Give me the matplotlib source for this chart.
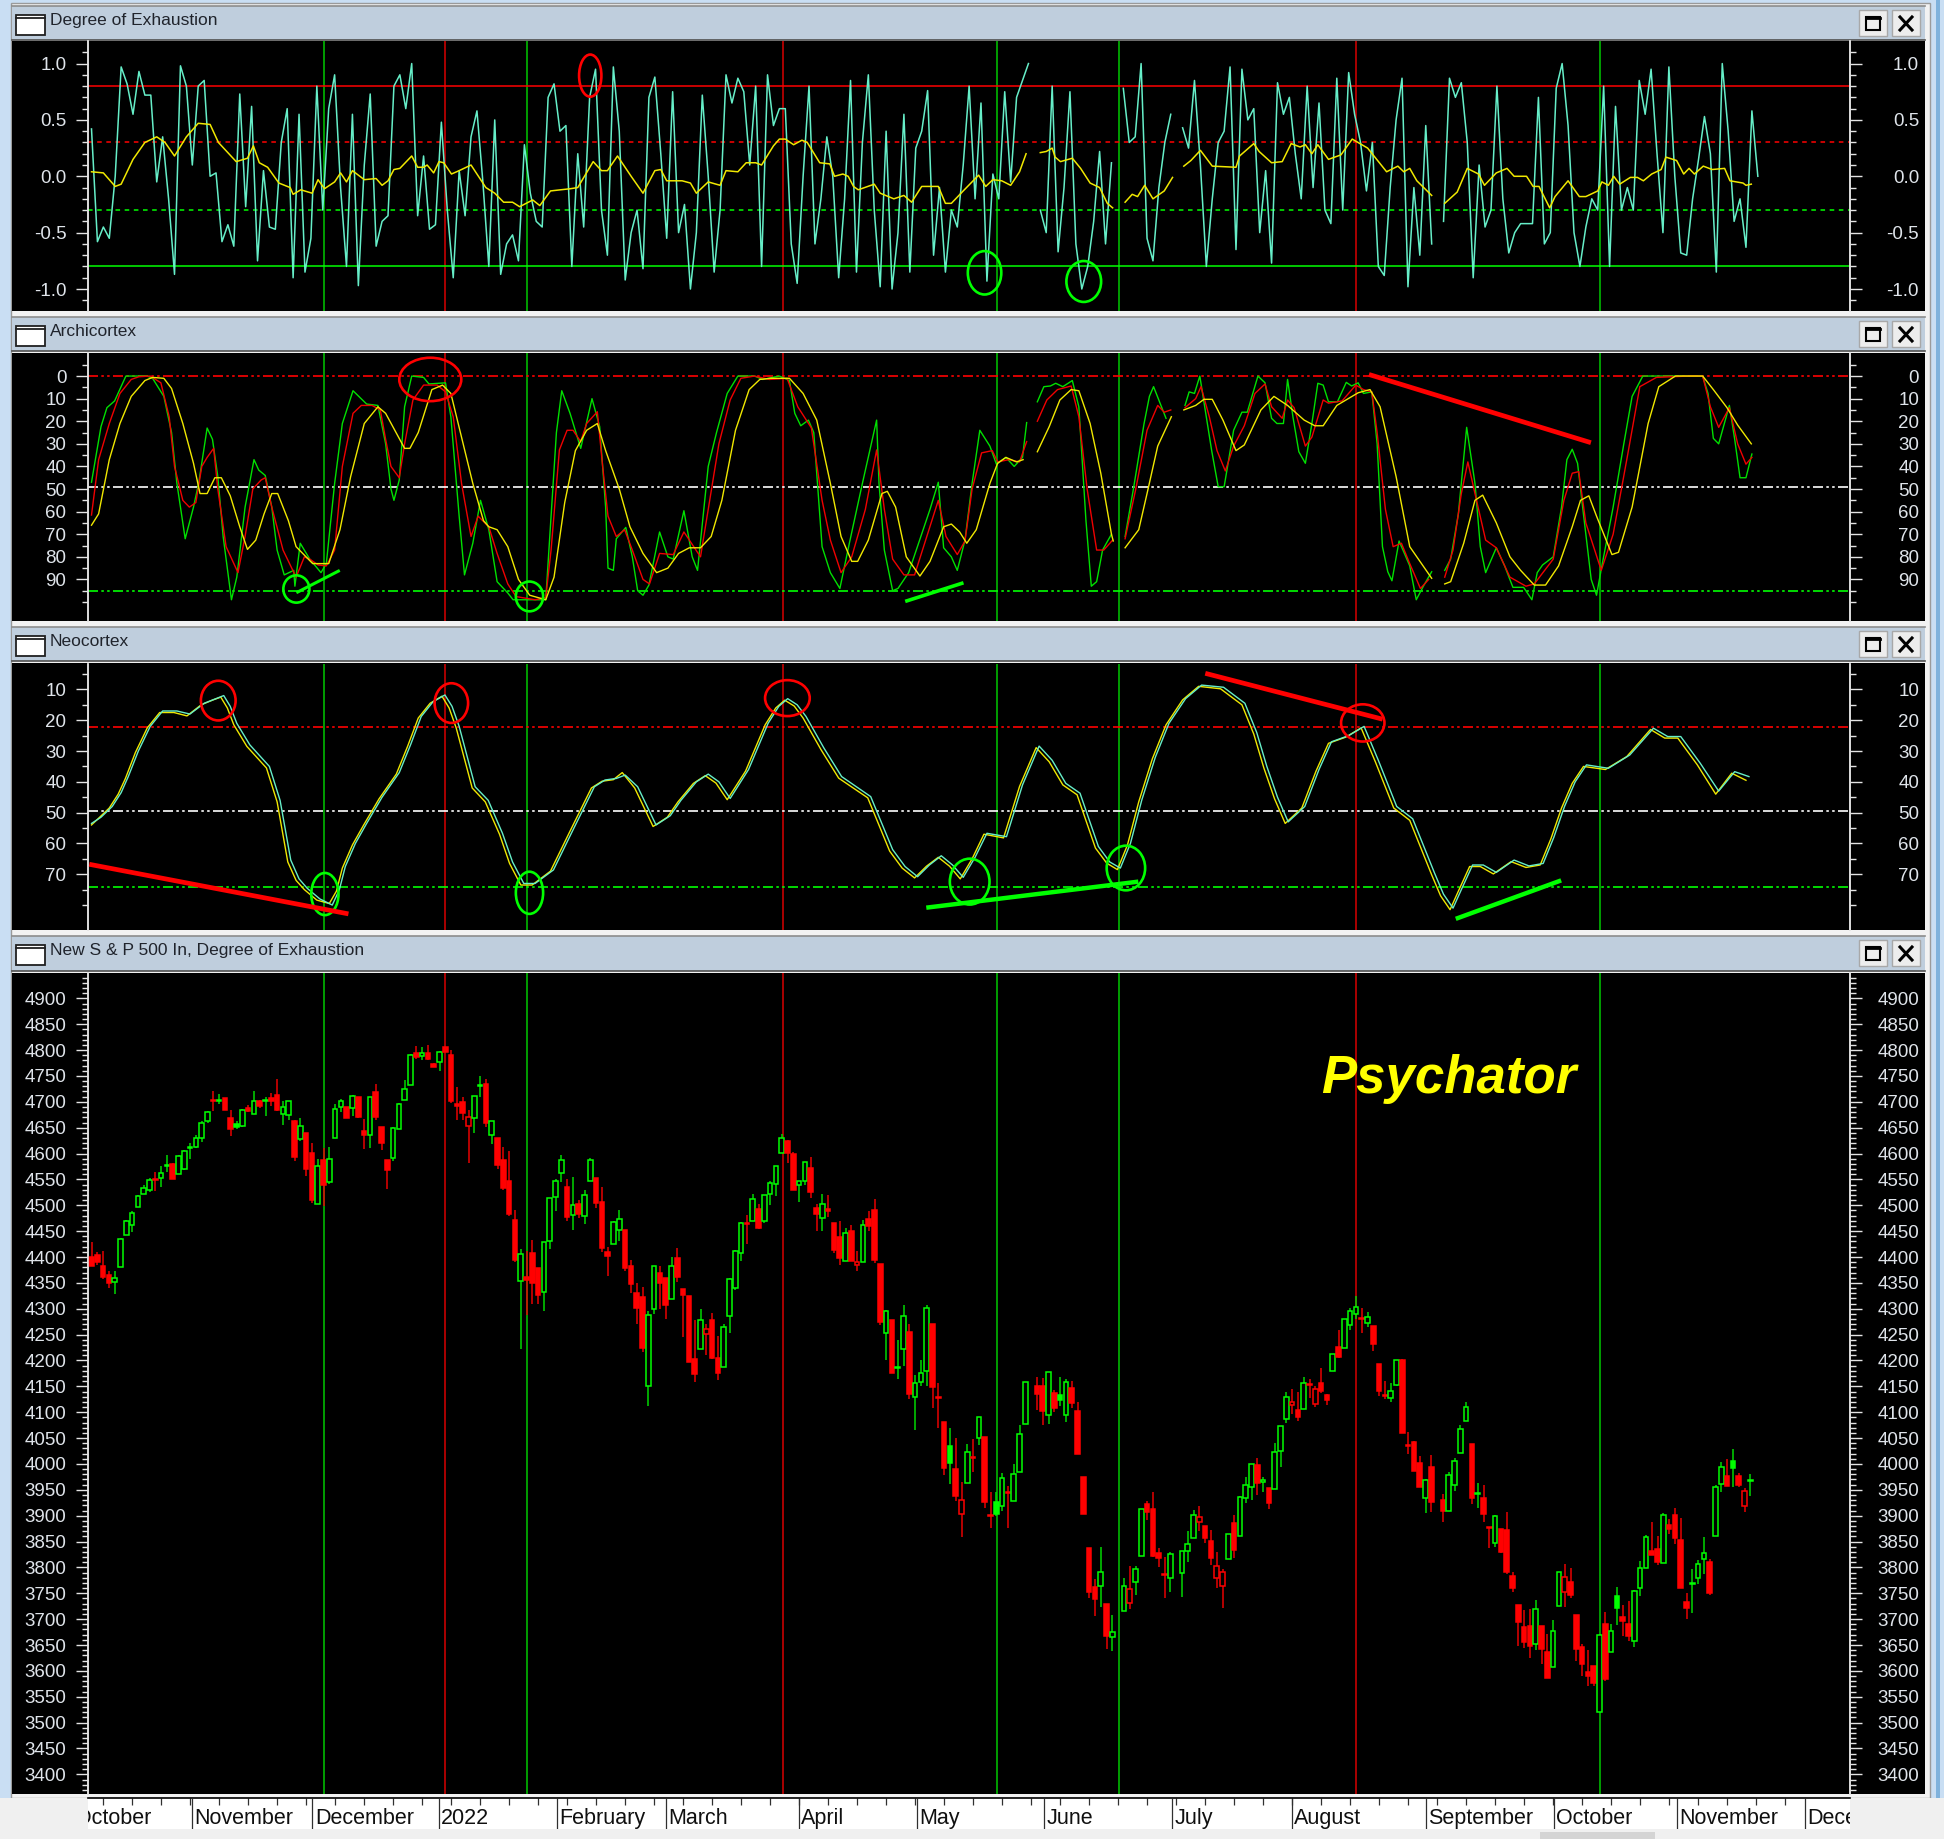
import numpy as np
import matplotlib
matplotlib.use("Agg")
import matplotlib.pyplot as plt
from matplotlib.patches import Ellipse, Rectangle
from matplotlib.ticker import FixedLocator, NullFormatter

nan = float("nan")
W, H = 1944, 1839
plt.rcParams["font.family"] = ["Liberation Sans", "DejaVu Sans"]

panel_titles = ["Degree of Exhaustion", "Archicortex", "Neocortex", "New S & P 500 In, Degree of Exhaustion"]
month_labels = ["October", "November", "December", "2022", "February", "March", "April", "May", "June",
                "July", "August", "September", "October", "November", "December"]
month_bars = [-3.2, 17.4, 38.1, 59.9, 80.2, 99.0, 121.9, 142.4, 164.3, 186.3, 207.0, 230.1, 252.1, 273.3, 295.5]

# bars carrying the vertical signal lines
green_events = [40, 75, 156.2, 177.2, 260]
red_events = [61, 119.2, 218]

# daily candles, nan on the empty holiday columns
opens = [4400, 4403, 4383, 4365, 4352, 4381, 4443, 4461, 4496, 4522, 4529, 4550, 4552, 4576, 4579, 4560, 4571, 4611, 4613, 4630,
         4662, 4701, 4702, 4707, 4669, 4657, 4653, 4688, 4677, 4701, 4701, 4707, 4714, 4677, 4674, 4662, 4628, 4640, 4601, 4502,
         4588, 4545, 4631, 4690, 4690, 4688, 4709, 4643, 4636, 4719, 4652, 4588, 4592, 4648, 4704, 4733, 4795, 4788, 4795, 4774,
         4777, 4806, 4790, 4696, 4699, 4654, 4669, 4730, 4734, 4636, 4631, 4587, 4547, 4471, 4354, 4362, 4407, 4378, 4333, 4430,
         4516, 4563, 4535, 4482, 4503, 4479, 4546, 4552, 4506, 4409, 4425, 4453, 4453, 4383, 4331, 4323, 4151, 4299, 4370, 4360,
         4318, 4398, 4339, 4325, 4203, 4223, 4252, 4279, 4204, 4188, 4286, 4341, 4408, 4464, 4469, 4493, 4469, 4522, 4541, 4602,
         4624, 4599, 4540, 4547, 4572, 4494, 4475, 4493, 4465, 4438, 4393, 4450, 4385, 4391, 4473, 4491, 4386, 4254, 4279, 4185,
         4223, 4256, 4130, 4159, 4179, 4270, 4128, 4081, 4035, 3991, 3904, 3964, 4012, 4051, 4052, 3900, 3927, 3918, 3945, 3929,
         3985, 4078, nan, 4151, 4151, 4095, 4137, 4134, 4095, 4147, 4102, 3974, 3838, 3763, 3764, 3729, 3666, nan, 3716, 3732,
         3772, 3822, 3922, 3913, 3827, 3788, 3779, nan, 3790, 3831, 3857, 3887, 3880, 3852, 3779, 3765, 3816, 3885, 3860, 3935,
         3956, 3997, 3966, 3954, 3951, 4025, 4086, 4113, 4104, 4107, 4154, 4115, 4157, 4134, 4179, 4227, 4225, 4269, 4289, 4282,
         4272, 4267, 4194, 4133, 4127, 4152, 4201, 4036, 4042, 4001, 3935, 3994, nan, 3931, 3909, 3959, 4022, 4083, 4038, 3942,
         3934, 3878, 3848, 3875, 3873, 3783, 3728, 3685, 3687, 3651, 3687, 3637, 3608, 3726, 3753, 3771, 3708, 3647, 3597, 3609,
         3521, 3690, 3637, 3745, 3705, 3690, 3657, 3761, 3799, 3832, 3835, 3808, 3882, 3901, 3853, 3734, 3768, 3779, 3817, 3811,
         3861, 3962, 3977, 4005, 3977, 3918, 3967]
closes = [4382, 4390, 4361, 4349, 4360, 4435, 4470, 4485, 4517, 4534, 4548, 4548, 4563, 4578, 4551, 4596, 4604, 4613, 4631, 4660,
          4680, 4701, 4704, 4685, 4648, 4651, 4685, 4683, 4701, 4691, 4703, 4701, 4685, 4690, 4701, 4594, 4654, 4570, 4511, 4575,
          4539, 4590, 4686, 4701, 4668, 4712, 4670, 4636, 4709, 4670, 4620, 4568, 4649, 4696, 4725, 4791, 4787, 4795, 4782, 4767,
          4797, 4796, 4701, 4692, 4679, 4670, 4712, 4732, 4659, 4662, 4578, 4534, 4484, 4394, 4405, 4355, 4349, 4326, 4429, 4514,
          4547, 4587, 4477, 4500, 4483, 4520, 4587, 4505, 4417, 4401, 4468, 4474, 4378, 4347, 4302, 4224, 4288, 4383, 4349, 4307,
          4383, 4362, 4326, 4198, 4174, 4278, 4260, 4204, 4176, 4264, 4357, 4412, 4465, 4463, 4512, 4457, 4520, 4543, 4575, 4631,
          4602, 4530, 4546, 4583, 4525, 4483, 4502, 4488, 4413, 4399, 4447, 4393, 4391, 4462, 4460, 4395, 4274, 4296, 4176, 4186,
          4286, 4135, 4157, 4176, 4302, 4149, 4127, 3993, 4001, 3938, 3930, 4023, 4011, 4090, 3927, 3899, 3904, 3973, 3943, 3980,
          4058, 4159, nan, 4135, 4103, 4177, 4109, 4123, 4159, 4117, 4019, 3903, 3753, 3738, 3792, 3668, 3676, nan, 3764, 3759,
          3797, 3912, 3908, 3822, 3819, 3786, 3826, nan, 3831, 3846, 3901, 3898, 3857, 3819, 3803, 3792, 3864, 3833, 3936, 3959,
          4000, 3964, 3967, 3924, 4023, 4073, 4130, 4119, 4091, 4157, 4153, 4145, 4141, 4123, 4212, 4207, 4281, 4295, 4304, 4280,
          4285, 4232, 4141, 4131, 4141, 4200, 4060, 4034, 3987, 3955, 3968, 3927, nan, 3909, 3979, 4005, 4067, 4110, 3935, 3943,
          3903, 3876, 3899, 3830, 3792, 3761, 3695, 3656, 3648, 3719, 3642, 3587, 3678, 3791, 3782, 3746, 3642, 3613, 3590, 3577,
          3669, 3584, 3677, 3721, 3697, 3668, 3754, 3798, 3858, 3824, 3810, 3901, 3874, 3857, 3761, 3721, 3770, 3806, 3828, 3750,
          3956, 3994, 3958, 3992, 3960, 3948, 3968]
highs = [4429, 4409, 4412, 4372, 4372, 4437, 4472, 4488, 4519, 4540, 4552, 4565, 4575, 4597, 4581, 4598, 4607, 4620, 4635, 4662,
         4683, 4720, 4715, 4708, 4684, 4662, 4686, 4693, 4720, 4703, 4710, 4718, 4744, 4702, 4702, 4664, 4668, 4640, 4620, 4590,
         4610, 4613, 4695, 4705, 4690, 4714, 4709, 4667, 4710, 4735, 4652, 4588, 4652, 4698, 4742, 4792, 4808, 4805, 4810, 4775,
         4799, 4806, 4800, 4728, 4710, 4684, 4712, 4750, 4745, 4662, 4631, 4612, 4604, 4490, 4415, 4412, 4433, 4378, 4429, 4515,
         4550, 4597, 4550, 4555, 4510, 4530, 4592, 4552, 4535, 4420, 4470, 4490, 4453, 4395, 4350, 4342, 4295, 4383, 4382, 4360,
         4400, 4418, 4339, 4325, 4278, 4299, 4270, 4291, 4247, 4270, 4360, 4414, 4467, 4482, 4522, 4502, 4520, 4546, 4575, 4637,
         4627, 4603, 4547, 4583, 4593, 4503, 4521, 4520, 4465, 4470, 4456, 4462, 4412, 4471, 4488, 4512, 4386, 4298, 4279, 4240,
         4308, 4270, 4171, 4200, 4308, 4270, 4157, 4081, 4070, 4050, 3965, 4039, 4048, 4090, 4052, 3945, 3945, 3983, 3957, 4000,
         4076, 4159, nan, 4169, 4166, 4177, 4143, 4169, 4165, 4160, 4119, 3974, 3838, 3777, 3839, 3729, 3708, nan, 3780, 3803,
         3802, 3912, 3928, 3945, 3838, 3820, 3830, nan, 3831, 3870, 3911, 3918, 3880, 3872, 3829, 3797, 3864, 3902, 3938, 3974,
         4000, 4012, 3975, 3954, 4041, 4073, 4140, 4145, 4139, 4168, 4165, 4151, 4186, 4136, 4212, 4259, 4281, 4302, 4325, 4302,
         4293, 4267, 4194, 4160, 4157, 4200, 4203, 4062, 4044, 4015, 3970, 4018, nan, 3942, 3985, 4012, 4076, 4119, 4038, 3963,
         3960, 3878, 3901, 3875, 3908, 3791, 3728, 3717, 3719, 3737, 3687, 3672, 3698, 3791, 3806, 3798, 3708, 3652, 3641, 3609,
         3672, 3713, 3690, 3763, 3728, 3736, 3757, 3812, 3863, 3888, 3861, 3905, 3893, 3914, 3896, 3751, 3797, 3815, 3858, 3817,
         3959, 4003, 4009, 4029, 3983, 3954, 3980]
lows = [4382, 4385, 4358, 4340, 4329, 4381, 4442, 4448, 4496, 4522, 4525, 4527, 4535, 4565, 4551, 4560, 4568, 4590, 4611, 4623,
        4660, 4682, 4695, 4684, 4633, 4648, 4652, 4680, 4677, 4688, 4673, 4692, 4683, 4655, 4665, 4585, 4625, 4557, 4505, 4502,
        4498, 4541, 4631, 4680, 4668, 4672, 4668, 4608, 4610, 4665, 4606, 4532, 4585, 4648, 4704, 4733, 4782, 4780, 4780, 4767,
        4760, 4796, 4698, 4665, 4665, 4582, 4640, 4710, 4652, 4618, 4570, 4530, 4480, 4390, 4222, 4288, 4310, 4310, 4295, 4415,
        4488, 4545, 4470, 4452, 4475, 4464, 4546, 4495, 4410, 4363, 4425, 4430, 4372, 4330, 4270, 4217, 4112, 4290, 4300, 4280,
        4318, 4352, 4245, 4198, 4159, 4223, 4210, 4202, 4163, 4188, 4254, 4336, 4393, 4425, 4469, 4455, 4465, 4501, 4517, 4602,
        4581, 4530, 4507, 4539, 4514, 4450, 4451, 4477, 4408, 4384, 4393, 4393, 4372, 4390, 4451, 4388, 4268, 4200, 4176, 4164,
        4190, 4125, 4065, 4150, 4150, 4108, 4069, 3978, 3961, 3929, 3859, 3964, 3984, 4036, 3914, 3877, 3900, 3910, 3877, 3928,
        3985, 4078, nan, 4105, 4075, 4077, 4100, 4112, 4082, 4109, 4019, 3903, 3740, 3706, 3724, 3642, 3639, nan, 3716, 3719,
        3746, 3822, 3891, 3820, 3801, 3741, 3752, nan, 3743, 3810, 3857, 3870, 3847, 3804, 3760, 3722, 3816, 3819, 3860, 3925,
        3930, 3940, 3945, 3912, 3951, 3995, 4080, 4097, 4083, 4107, 4127, 4110, 4138, 4114, 4179, 4204, 4225, 4259, 4280, 4253,
        4265, 4219, 4132, 4125, 4120, 4150, 4060, 4019, 3986, 3955, 3905, 3907, nan, 3888, 3909, 3948, 4022, 4083, 3923, 3915,
        3888, 3838, 3839, 3828, 3788, 3752, 3648, 3645, 3624, 3641, 3613, 3587, 3608, 3726, 3723, 3740, 3620, 3590, 3570, 3570,
        3521, 3580, 3637, 3688, 3668, 3657, 3647, 3744, 3799, 3824, 3805, 3808, 3865, 3845, 3761, 3700, 3712, 3767, 3788, 3747,
        3861, 3946, 3958, 3955, 3955, 3908, 3938]
filled_green = [25, 148, 156, 167, 263, 283]
hollow_red = [65, 106, 132, 150, 179, 191, 194, 195, 207, 211, 254, 285]

# Degree of Exhaustion, one reading per indicator bar
exh_line = [.42, -.58, -.45, -.55, 0, .97, .82, .55, .93, .72,
            .72, -.05, .35, -.2, -.87, .98, .8, .1, .8, .85,
            0, .03, -.58, -.43, -.62, .73, -.27, .62, -.75, .05,
            -.45, -.47, .3, .6, -.9, .55, -.85, -.55, .8, -.3,
            .6, .9, -.1, -.8, .55, -.97, .1, .73, -.62, -.4,
            -.35, .8, .9, .6, 1.0, -.35, .18, -.47, -.43, .48,
            -.3, -.9, .05, -.35, .35, .58, -.05, -.8, .5, -.87,
            -.6, -.52, -.75, .28, -.15, -.4, -.45, .7, .82, .4,
            .45, -.8, .2, -.45, .7, .95, -.3, -.7, .97, .4,
            -.92, -.5, -.3, -.82, .7, .88, .2, -.55, .75, -.5,
            -.25, -1.0, -.5, .72, 0, -.85, -.3, .9, .65, .87,
            .75, .1, .8, -.8, .9, .45, .6, .6, -.6, -.95,
            0, .8, -.6, -.2, .35, 0, -.9, -.2, .85, -.85,
            .3, .9, -.3, -.98, .4, -1.0, -.5, .55, -.85, .25,
            .4, .76, -.7, -.1, -.85, -.3, -.45, .1, .8, -.2,
            .65, -.93, .02, -.2, .75, -.05, .7, .85, 1.0, nan,
            -.3, -.5, .8, -.67, -.1, .75, -.6, -1.0, -.8, -.4,
            .22, -.6, .12, nan, .78, .3, .35, 1.0, -.55, -.75,
            -.1, .3, .55, nan, .43, .25, .85, .1, -.8, -.2,
            .3, .4, .97, -.65, .95, .5, .6, -.5, .05, -.77,
            .83, .55, .7, .2, -.2, .8, -.1, .65, -.3, -.42,
            .87, -.3, .92, .55, .3, -.13, .3, -.8, -.88, -.1,
            .5, .87, -.98, -.1, -.7, .45, -.6, nan, -.4, .87,
            .7, .83, .3, -.9, .1, -.45, -.3, .8, -.2, -.68,
            -.5, -.42, -.42, -.42, .7, -.6, -.5, .78, 1.0, .45,
            -.5, -.8, -.45, -.2, -.3, .8, -.8, .62, -.3, -.1,
            -.3, .85, .55, .95, .2, -.5, .97, 0, -.68, -.7,
            -.2, .15, .53, .2, -.85, 1.0, .4, -.4, -.2, -.63,
            .58, 0]
exh_signal = [(0, .04), (2, .03), (4, -.09), (5, -.07), (7, .15), (9, .3), (11, .35), (12.4, .3), (14, .18), (16, .35),
              (18, .47), (20, .46), (21.4, .3), (24.4, .13), (26.3, .16), (27.3, .27), (28.3, .12), (29.7, .08), (31.6, -.06),
              (33.5, -.1), (34, -.16), (35.3, -.12), (37.2, -.15), (38.2, -.03), (39.3, -.11), (41, -.05), (42, .03), (43, -.05),
              (44, .05), (46, -.03), (48, -.02), (49, -.08), (50, -.04), (51, .06), (52, .07), (54, .18), (55, .08), (56, .08),
              (56.6, .1), (57.7, .03), (58.6, .13), (59.4, .12), (60.7, .02), (62, .05), (64, .1), (66.5, -.1), (68, -.15),
              (69.5, -.23), (71, -.23), (72.2, -.27), (74.4, -.21), (75.6, -.26), (77.4, -.13), (80.8, -.11), (82, -.1),
              (84.6, .13), (86, .05), (87, .05), (88.7, .18), (91, 0), (93, -.15), (95, .05), (96, .06), (97, -.04), (99.6, -.04),
              (101, -.06), (102, -.15), (104, -.05), (106, -.08), (107, .05), (109, .04), (110.4, .12), (112, .12), (113, .1),
              (115, .27), (116, .33), (117, .33), (118.4, .28), (119.8, .32), (120.7, .3), (122.8, .12), (124.5, .11), (125.3, 0),
              (126.7, .02), (127.6, 0), (128.5, -.09), (129.3, -.12), (132, -.07), (133, -.15), (135.3, -.2), (137, -.17),
              (138.3, -.23), (140, -.09), (142.8, -.09), (144, -.24), (145, -.24), (147, -.13), (149.6, .01), (150.8, -.09),
              (152, -.03), (153.5, -.04), (155, -.08), (156.5, .04), (157.6, .2), (159, nan),
              (160, .21), (161, .22), (162, .25), (162.5, .17), (163.4, .13), (165.4, .16), (166.8, .07), (168.4, -.06), (170, -.1),
              (171.3, -.24), (172.2, -.28), (173, nan), (174.3, -.23), (175.5, -.16), (176.4, -.18), (177.6, -.08), (179, -.2),
              (180.9, -.13), (182.3, -.01), (183, nan), (184.2, .09), (185.4, .14), (187, .23), (189, .09), (193, .08), (193.6, .18),
              (196, .29), (196.9, .22), (199, .12), (200.8, .13), (202.3, .29), (203.8, .26), (204.7, .28), (205.8, .2), (206.8, .28),
              (208.6, .15), (210.7, .19), (212.6, .33), (215.2, .25), (218.4, .04), (220.3, .09), (221.3, .04), (222.3, .07),
              (223.5, -.04), (226, -.17), (227, nan), (228.2, -.24), (230.3, -.14), (232, .07), (233.9, .02), (234.9, -.08),
              (236.9, .03), (238.7, .07), (239.9, 0), (242, 0), (243.1, -.09), (244.1, -.09), (245.9, -.28), (246.8, -.18), (249, -.04),
              (250.9, -.18), (252, -.18), (254, -.13), (254.7, -.05), (255.8, -.08), (256.7, 0), (257.7, -.07), (259.5, -.01),
              (260.7, -.01), (261.7, -.04), (263.1, .02), (264.7, .06), (265.5, .17), (267.3, .14), (268.5, .02), (269.4, .07),
              (270.3, .02), (271.8, .09), (273.3, .06), (275.4, .07), (276.3, -.04), (278.5, -.06), (279, -.08), (279.9, -.07)]

# Archicortex turning points
arch_green = [(0, 47), (1.6, 22.4), (2.6, 14), (3.9, 11), (5.8, 0), (9.4, 0), (10.3, 1), (12.2, 9), (13.5, 25), (14.4, 47.5),
              (15.8, 72), (17.2, 58), (18.1, 47), (19.5, 23), (20.4, 28), (21.3, 44.5), (22.2, 71), (23.6, 99), (24.5, 89), (25.9, 58),
              (27.4, 37), (28.2, 41.6), (29.3, 44), (30.4, 58), (31.3, 77), (32.5, 88), (34.1, 86), (34.3, 93), (35.2, 74), (36.8, 81),
              (38.7, 87), (39.6, 83), (41, 47.5), (42.3, 21), (44.1, 6.5), (46, 11.4), (46.4, 12.4), (48.3, 13), (49.6, 30), (50.5, 50),
              (51, 55), (51.9, 46), (52.8, 13.6), (54, 0), (56, .6), (56.9, 3.5), (59.7, 3), (60.6, 18), (62, 62), (62.9, 88),
              (64.3, 74), (65.6, 55), (67, 68), (68.4, 91), (70.2, 96), (71.1, 99), (76.6, 99), (77.5, 62), (78.4, 25), (79.3, 6.5),
              (80.7, 16.5), (82.5, 32), (84.4, 10), (85.7, 22.4), (86.7, 58), (87.1, 85), (88, 86), (88.5, 72), (90.1, 67), (91.2, 80),
              (92.1, 95), (93, 97), (94, 92.5), (95.8, 69), (97.2, 80), (98.1, 81), (99.9, 59.6), (101.3, 80), (102.2, 86), (104, 40),
              (105.4, 25), (107.2, 7.7), (109, 0), (111.8, 0), (113.2, 1.5), (116, 0), (117.7, 2), (118.6, 16.5), (119.6, 22), (120.9, 19.5),
              (121.8, 25), (123.2, 75.5), (124.6, 87), (126.2, 94), (127.8, 74), (130, 47.5), (132.4, 19.5), (132.8, 47.5), (133.7, 77),
              (135.1, 95), (136, 94), (137.8, 87), (141.4, 59), (142.8, 47), (143.7, 76), (145, 80), (146, 86), (147.3, 72.6), (148.5, 47.5),
              (149.8, 24), (151.5, 31), (152.6, 39), (154.2, 36), (155.6, 40), (157, 36), (157.7, 20.6), (158.6, nan),
              (159.5, 11.4), (160.6, 4.7), (161.7, 4.4), (162.6, 3.2), (163.8, 4.7), (165.4, 2), (166.5, 13.6), (167.7, 64), (168.6, 93),
              (169.5, 91), (170.5, 77), (172, 70), (173, nan), (174.3, 71), (175.7, 50), (177.5, 21), (178.4, 9), (179.1, 4.7), (181.2, 18.7),
              (183, nan), (184.4, 13), (185.1, 7), (186, 7.7), (186.9, 0), (188, 18), (188.9, 33), (190, 49), (191, 49), (192.6, 24), (194, 16),
              (194.9, 16), (196.7, 0), (197.9, 3), (199, 18.7), (199.9, 21), (201, 21), (201.7, 1.5), (202.6, 18), (203.6, 33.5), (204.7, 38.6),
              (205.8, 21), (206.8, 3.2), (207.7, 4), (208.6, 11.4), (210.1, 11.4), (211.6, 2.8), (212.5, 4.4), (213.6, 3), (214.5, 7.7), (215.9, 7),
              (216.8, 30), (217.7, 75.5), (218.6, 86.6), (219.3, 90.6), (220.5, 73), (222.3, 84), (223.4, 99), (224.6, 93), (226, 86.6), (227, nan),
              (228.2, 86), (229.2, 81), (230.5, 61), (231.9, 22.7), (233.3, 47.5), (234.2, 75.5), (235.1, 87), (236.9, 76), (238.3, 84), (239.7, 93.5),
              (241.5, 93.5), (242.9, 99), (243.8, 87), (244.7, 83.6), (246.5, 80), (247.9, 58), (248.8, 37), (249.7, 32.4), (250.6, 38.6), (251.5, 59),
              (252.9, 90), (253.8, 97), (254.7, 84), (256.6, 58), (258.4, 30), (259.8, 9), (261.6, 0), (271.7, 0), (272.6, 7.7), (273.5, 27.6),
              (274.4, 30), (276.2, 13), (277.1, 28), (278, 45), (279, 45), (280, 34.5)]
arch_red = [(0, 61.5), (1.2, 37), (3, 21), (4.8, 7.7), (6.7, 1.5), (8, .3), (9.9, 0), (11.7, 3), (13.1, 18), (14, 40), (15.4, 55), (16.5, 58),
            (17.6, 56), (18.6, 40), (19.5, 36), (20.6, 32), (21.3, 50), (22.7, 75.5), (24.7, 87), (25.9, 71), (27.2, 50), (28.6, 46), (29.3, 45),
            (30.4, 58), (32.3, 77), (34.5, 89), (35.9, 80), (36.8, 81), (38.2, 83.6), (39.6, 84), (41, 77), (42.3, 40), (44.1, 16.5), (45.5, 13),
            (47.3, 13), (48.7, 15), (49.6, 28), (50.5, 40), (51.9, 45), (52.8, 30), (54.2, 10.6), (56, 4), (58.3, 4), (59.7, 7), (61, 18), (62.4, 47.5),
            (64, 71), (65.2, 62), (67, 66.7), (68.4, 78.5), (70.2, 92), (71.6, 97.6), (74.8, 99), (76.6, 98), (77.5, 77), (78.9, 32.7), (80.2, 24),
            (81.2, 24), (82.5, 29), (83.5, 21), (85.3, 15.8), (86.2, 40), (87.1, 62), (88.5, 71), (89.9, 68), (91.2, 77), (93, 90), (94.1, 92), (95.8, 78.5),
            (98.1, 79), (99.9, 69), (102.7, 80), (104, 59), (105.8, 30), (107.7, 10.6), (109.5, 1), (111.8, 0), (114.3, 1.5), (117.3, 1), (119.1, 13.6),
            (121.4, 23), (123.2, 55), (124.6, 72.6), (126.4, 87), (128.2, 80), (130.5, 59), (132.4, 32.7), (133.7, 59), (135.1, 81), (137, 88), (138.8, 88),
            (142.2, 60), (142.8, 55), (144.1, 71), (146, 79), (147.3, 73), (148.5, 50), (150.1, 34), (151.9, 33), (152.8, 38), (154.7, 37), (156.5, 38),
            (157.7, 29), (158.6, nan), (159.5, 20), (161.1, 10.6), (162.9, 6), (165.2, 4.4), (166.5, 18), (167.9, 50), (169.5, 77), (170.7, 77), (172.2, 72.6),
            (173, nan), (174.3, 72), (176.1, 50), (178, 24), (179.8, 13), (180.9, 16), (182, 15), (183, nan), (184.4, 14), (186.2, 10), (187.1, 4.7), (188.5, 18),
            (189.8, 33), (191.2, 42), (192.6, 31), (194.4, 22), (196.2, 7.7), (197.9, 3.5), (199, 13.6), (200.8, 18.7), (201.7, 10.6), (202.8, 14), (204.7, 31),
            (205.8, 27), (207.7, 10.6), (208.6, 12), (210.9, 11), (213.2, 4), (214.5, 6), (215.9, 7), (216.8, 25), (218.2, 59), (219.5, 75.5), (220.9, 74),
            (222.3, 83), (224.1, 94), (225.5, 90), (227, nan), (228.2, 89), (229.6, 77), (231, 52), (232.1, 38), (233.3, 52), (235.1, 72.6), (236.9, 76), (239.2, 89),
            (241.9, 93), (243.3, 92), (246.5, 81), (248.3, 55), (249.7, 43), (250.8, 42.3), (252, 65), (254.6, 86), (256.6, 70), (258.9, 37), (261.1, 4.7), (263.9, .6),
            (269.4, 0), (271.7, 0), (273, 13.6), (274.4, 22.7), (276.2, 14), (277.6, 30), (279, 39), (280, 36)]
arch_yellow = [(0, 66), (1.2, 61), (3, 37), (4.8, 21), (6.7, 9), (9, 2), (10.3, .6), (12.2, 1), (13.5, 5.5), (15.4, 21), (17.2, 38.6), (18.3, 52), (19.5, 52),
               (20.8, 45), (21.9, 45), (23.4, 53), (25, 66.7), (26.3, 76.7), (27.7, 72.6), (29.1, 61), (30.4, 52), (31.4, 52), (33.2, 64), (34.5, 75.5), (37.3, 83),
               (40, 83), (41.9, 68), (43.7, 44.5), (46, 21), (48.3, 13.6), (49.6, 16.5), (52.8, 32), (53.7, 32), (55.1, 25), (57.4, 6), (59.2, 4), (60.6, 7.7), (62.4, 27),
               (64.3, 47.5), (66.1, 64), (67, 66.7), (68.4, 68), (70.2, 75.5), (72, 90), (73.9, 97), (76.6, 99), (78, 89), (79.8, 56), (81.6, 33), (83.5, 24), (85.3, 21),
               (86.7, 33), (89, 50), (90.8, 66.7), (93, 78.5), (95.3, 87), (97.2, 85), (99, 78.5), (100.8, 76), (102.7, 76), (104.5, 71), (106.3, 55), (108.6, 24), (110.9, 6),
               (112.7, 1.5), (114.5, 1), (117.7, 1), (120, 7.7), (122.3, 19.5), (124.6, 47.5), (126.4, 71), (128.2, 82), (129.2, 82), (131, 72.6), (133.3, 52), (134.2, 51),
               (135.6, 58), (137.4, 80), (139.7, 88.5), (141.4, 82), (143.7, 66.7), (145, 65.5), (146.4, 69), (147.6, 74), (149.2, 68), (151.5, 47.5), (152.8, 38.6), (154.2, 36),
               (156, 38), (157.1, 37), (158.6, nan), (159.5, 33.5), (161.5, 22.4), (163.3, 10.6), (165.2, 6), (166.5, 6.5), (168.4, 21), (170.2, 43), (172, 70), (172.3, 73), (173, nan),
               (174.3, 76), (176.6, 68), (178, 52), (179.8, 31), (182.1, 18), (183, nan), (184.2, 15), (186.2, 13), (187.6, 10.3), (189, 10.3), (190.8, 19.5), (193, 33), (194.4, 30.5),
               (197.2, 15), (199.4, 9), (201.7, 13), (204.5, 19.5), (206.3, 22), (207.7, 22), (210, 13), (213.6, 7.4), (215.6, 6), (217.3, 13.6), (220, 44.5), (222.3, 75.5), (226, 89.5),
               (227, nan), (228.2, 92), (229.2, 91), (231.4, 74), (233.3, 55), (234.6, 52.7), (236.9, 65), (239.2, 80), (241, 86), (243.3, 92.5), (245.2, 92.5), (247.4, 84), (249.7, 66.7),
               (251.1, 55), (252.5, 53), (253.8, 62), (256.4, 79), (257.5, 78), (259.8, 58), (262.5, 21), (264.3, 4.7), (267.1, 0), (271.7, 0), (273.5, 6), (275.8, 14), (277.6, 21.7), (279.9, 30)]

# Neocortex turning points
neo_cyan = [(0, 53.5), (1.6, 51.5), (3.5, 48), (5, 43.5), (6.2, 38.3), (7.9, 30), (9.9, 22), (12, 17), (14.4, 17), (16.6, 18), (19, 14.5), (21, 13), (22.3, 12), (23.4, 15.5), (24.5, 21),
            (26.7, 28), (30, 35), (31.8, 46), (33.6, 65.4), (35, 71.5), (36.4, 74.6), (38.5, 78), (40.6, 80), (41.8, 75), (42.8, 67.5), (44.5, 60), (46.4, 53.5), (49, 45), (51.9, 37), (53.8, 28),
            (55.6, 18.8), (57.6, 14), (59.6, 11.8), (60.8, 15.5), (62, 22), (64.7, 41.6), (66.9, 46), (69.3, 56.7), (71, 66), (72.9, 73), (74.8, 73), (77.9, 68.6), (81.2, 55.6), (84.8, 41.6),
            (86.6, 39.4), (88.5, 38.9), (90, 37.8), (92.1, 41.6), (95.2, 54), (97.6, 51), (99.4, 46), (102, 40), (104, 37.5), (105.8, 40), (107.7, 45.4), (110.8, 36), (114.1, 21), (115.9, 15.5), (117.4, 13),
            (119, 15), (120.5, 18.8), (123.5, 29), (126.5, 38.3), (131.4, 44.8), (135.1, 62), (137.2, 67.5), (139.3, 70.8), (141.3, 67), (143.3, 64), (145.2, 67), (147, 71), (149, 64.5), (151, 56.7),
            (154.3, 57.8), (157, 41), (159.8, 28.4), (162, 33), (164.3, 40.5), (166.7, 43.7), (169.8, 61), (171.7, 66), (173.5, 68), (175.2, 60), (177.1, 46), (179.4, 32), (181.7, 21),
            (184.5, 13), (187.2, 8.6), (190.9, 9.3), (194.5, 14.5), (196.5, 24), (198.2, 35), (200, 45), (201.8, 53), (204.6, 48), (207, 36), (209.1, 27), (212, 25), (214.6, 22), (217, 33),
            (220.1, 48), (222.8, 52), (226.5, 69.7), (228, 76.5), (229.6, 81), (231, 75), (232.9, 67), (234.7, 67), (236.9, 69.4), (239.9, 65.4), (242.4, 67.3), (244.8, 66.5), (246.6, 58), (248.4, 48),
            (250.2, 40), (252.1, 34.5), (255.8, 35.6), (259.4, 31.3), (263.4, 22.6), (265.8, 25.3), (268, 25.3), (271.3, 34), (274.4, 43), (277.1, 36.7), (279.5, 38.3)]
neo_yellow = [(0, 54), (1.1, 52), (3, 48.5), (4.5, 44), (5.7, 39), (7.4, 30.5), (9.4, 22.5), (11.5, 17.5), (13.9, 17.5), (16.1, 18.6), (18.5, 15), (20.5, 13.4), (21.8, 12.5), (22.9, 16), (24, 21.5),
              (26.2, 28.5), (29.5, 35.5), (31.3, 46.5), (33.1, 66), (34.5, 72), (35.9, 75), (38, 78.4), (40.1, 79.5), (41.3, 75.5), (42.3, 68), (44, 60.5), (45.9, 54), (48.5, 45.5), (51.4, 37.5), (53.3, 28.5),
              (55.1, 19.3), (57.1, 14.5), (59.1, 12.2), (60.3, 16), (61.5, 22.5), (64.2, 42), (66.4, 46.5), (68.8, 57), (70.5, 66.5), (72.4, 73.5), (74.3, 73.5), (77.4, 69), (80.7, 56), (84.3, 42),
              (86.1, 39.8), (88, 39.3), (89.5, 37), (91.6, 42), (94.7, 54.5), (97.1, 51.5), (98.9, 46.5), (101.5, 40.5), (103.5, 38), (105.3, 40.4), (107.2, 45.8), (110.3, 36.5), (113.6, 21.5), (115.4, 16), (116.9, 13.5),
              (118.5, 15.4), (120, 19.3), (123, 29.5), (126, 38.8), (130.9, 45.2), (134.6, 62.5), (136.7, 68), (138.8, 71.2), (140.8, 67.4), (142.8, 64.5), (144.7, 67.4), (146.5, 71.5), (148.5, 65), (150.5, 57),
              (153.8, 58.2), (156.5, 41.5), (159.3, 28.9), (161.5, 33.5), (163.8, 41), (166.2, 44.2), (169.3, 61.5), (171.2, 66.4), (173, 68.5), (174.7, 60.5), (176.6, 46.5), (178.9, 32.5), (181.2, 21.5),
              (184, 13.4), (186.7, 9), (190.4, 9.8), (194, 15), (196, 24.5), (197.7, 35.5), (199.5, 45.5), (201.3, 53.5), (204.1, 48.5), (206.5, 36.5), (208.6, 27.5), (211.5, 25.5), (214.1, 22.5), (216.5, 33.5),
              (219.6, 48.5), (222.3, 52.5), (226, 70.2), (227.5, 77), (229.1, 81.5), (230.5, 75.5), (232.4, 67.5), (234.2, 67.5), (236.4, 69.9), (239.4, 65.9), (241.9, 67.8), (244.3, 67), (246.1, 58.5), (247.9, 48.5),
              (249.7, 40.5), (251.6, 35), (255.3, 36), (258.9, 31.8), (262.9, 23), (265.3, 25.8), (267.5, 25.8), (270.8, 34.5), (273.9, 44), (276.6, 37.2), (279, 39.5)]

BG_BLUE = "#c9def3"
BAR_BLUE = "#bfcedd"
GREEN = "#00ff00"
RED = "#ff0000"
LINE_GREEN = "#00c800"
LINE_RED = "#d80000"
CYAN = "#66eec8"
YELLOW = "#f0e800"
TICK = "#e4e4e4"
LABEL = "#dfe4ea"

# indicator readings were taken on a grid 5.93 px wide, candles sit on 5.80 px
GRID = 5.93 / 5.80
X0, X1 = 88, 1850
FIRST_BAR, BAR_PX = 91.5, 5.8
XLIM = ((X0 - FIRST_BAR) / BAR_PX, (X1 - FIRST_BAR) / BAR_PX)
RIGHT_LABEL_END = (1919 - X0) / (X1 - X0)


def px_axes(fig, x0, y0, x1, y1, **kw):
    return fig.add_axes([x0 / W, 1 - y1 / H, (x1 - x0) / W, (y1 - y0) / H], **kw)


def xy(pairs):
    bars, vals = zip(*pairs)
    return np.array(bars) * GRID, np.array(vals)


def style_side(ax, major, minor, fmt, right=False):
    ax.set_yticks(major)
    ax.yaxis.set_minor_locator(FixedLocator(minor))
    ax.yaxis.set_minor_formatter(NullFormatter())
    ax.set_yticklabels([fmt % v for v in major])
    side = {"left": not right, "right": right, "labelleft": not right, "labelright": False}
    ax.tick_params(axis="y", which="major", length=8.5, width=1.0, color=TICK, labelcolor=LABEL,
                   labelsize=13.5, pad=7, **side)
    ax.tick_params(axis="y", which="minor", length=4, width=1.0, color=TICK, **side)
    if right:
        # the right hand labels end flush at the window edge
        for v in major:
            ax.text(RIGHT_LABEL_END, v, fmt % v, transform=ax.get_yaxis_transform(), clip_on=False,
                    ha="right", va="center_baseline", color=LABEL, fontsize=13.5)


def panel(fig, y0, y1, ylim, major, minor, fmt):
    ax = px_axes(fig, X0, y0, X1, y1, facecolor="black")
    ax.set_xlim(*XLIM)
    ax.set_ylim(*ylim)
    ax.set_xticks([])
    style_side(ax, major, minor, fmt)
    tw = ax.twinx()
    tw.set_ylim(*ylim)
    tw.set_xticks([])
    style_side(tw, major, minor, fmt, right=True)
    for a in (ax, tw):
        for s in ("top", "bottom"):
            a.spines[s].set_visible(False)
        for s in ("left", "right"):
            a.spines[s].set_color(TICK)
            a.spines[s].set_linewidth(1.1)
    for b in green_events:
        ax.axvline(b, color=LINE_GREEN, lw=1.1, zorder=1)
    for b in red_events:
        ax.axvline(b, color=LINE_RED, lw=1.1, zorder=1)
    return ax


DASHDOT = (0, (6, 2, 1.5, 2, 1.5, 2))

fig = plt.figure(figsize=(W / 100, H / 100), dpi=100, facecolor="#f0f0f0")

# window chrome behind the panels
bg = px_axes(fig, 0, 0, W, H, zorder=-1)
bg.set_xlim(0, W)
bg.set_ylim(H, 0)
bg.axis("off")
bg.add_patch(Rectangle((0, 0), W, 1798, fc=BG_BLUE, ec="none"))
bg.add_patch(Rectangle((11, 3), 1919, 1795, fc="#f2f2f2", ec="#9a9a9a", lw=1))
bg.add_patch(Rectangle((1936, 0), 4, 1798, fc="#7fb2dc", ec="none"))
bg.add_patch(Rectangle((0, 1798), W, 41, fc="#f0f0f0", ec="none"))
bg.add_patch(Rectangle((X0, 1798), X1 - X0, 31, fc="white", ec="none"))
bg.add_patch(Rectangle((1540, 1832), 115, 7, fc="#d4d4d4", ec="none"))

for title, ty0, ty1, by0, by1 in zip(panel_titles, [6, 317, 627, 936], [40, 351, 661, 971],
                                     [41, 353, 663, 973], [311, 621, 930, 1794]):
    bg.add_patch(Rectangle((12, ty0), 1913, ty1 - ty0, fc=BAR_BLUE, ec="none"))
    bg.plot([12, 1925], [ty0, ty0], color="#8c8c8c", lw=1.2)
    bg.plot([12, 1925], [ty1, ty1], color="#505050", lw=1.2)
    bg.add_patch(Rectangle((12, by0), 1913, by1 - by0, fc="black", ec="none"))
    bg.add_patch(Rectangle((16, ty0 + 9), 29, 20, fc="white", ec="#202020", lw=1.3))
    bg.plot([16, 45], [ty0 + 12, ty0 + 12], color="#202020", lw=1.3)
    bg.text(50, ty0 + 14, title, fontsize=12.5, color="#20242c", va="center", ha="left")
    bg.add_patch(Rectangle((1859, ty0 + 4), 28, 26, fc="#ededed", ec="#a8a8a8", lw=1))
    bg.add_patch(Rectangle((1892, ty0 + 4), 28, 26, fc="#ededed", ec="#a8a8a8", lw=1))
    bg.add_patch(Rectangle((1866, ty0 + 11), 14, 13, fc="none", ec="black", lw=1.5))
    bg.plot([1866, 1880], [ty0 + 12, ty0 + 12], color="black", lw=2)
    bg.plot([1900, 1912], [ty0 + 11, ty0 + 24], color="black", lw=2.2)
    bg.plot([1900, 1912], [ty0 + 24, ty0 + 11], color="black", lw=2.2)

# Degree of Exhaustion
ax1 = panel(fig, 41, 311, (-1.195, 1.2), [-1.0, -.5, 0, .5, 1.0],
            np.round(np.arange(-1.1, 1.15, .1), 1), "%.1f")
ax1.axhline(.8, color=RED, lw=1.1, zorder=1)
ax1.axhline(-.8, color=GREEN, lw=1.1, zorder=1)
ax1.axhline(.3, color=RED, lw=1.1, ls=(0, (3, 3)), zorder=1)
ax1.axhline(-.3, color=GREEN, lw=1.1, ls=(0, (3, 3)), zorder=1)
ax1.plot(np.arange(len(exh_line)) * GRID, exh_line, color=CYAN, lw=1.1, zorder=2)
ax1.plot(*xy(exh_signal), color=YELLOW, lw=1.1, zorder=3)

# Archicortex
ax2 = panel(fig, 353, 621, (108.4, -10.2), list(range(0, 100, 10)), np.arange(-5, 105, 5), "%d")
ax2.axhline(0, color=RED, lw=1.2, ls=DASHDOT, zorder=1)
ax2.axhline(49.3, color="white", lw=1.2, ls=DASHDOT, zorder=1)
ax2.axhline(95, color=GREEN, lw=1.2, ls=DASHDOT, zorder=1)
ax2.plot(*xy(arch_green), color="#00e000", lw=1.0, zorder=2)
ax2.plot(*xy(arch_red), color="#f00000", lw=1.0, zorder=3)
ax2.plot(*xy(arch_yellow), color=YELLOW, lw=1.0, zorder=4)

# Neocortex
ax3 = panel(fig, 664, 930, (88.1, 1.75), list(range(10, 80, 10)), np.arange(5, 85, 5), "%d")
ax3.axhline(22.3, color=RED, lw=1.2, ls=DASHDOT, zorder=1)
ax3.axhline(49.5, color="white", lw=1.2, ls=DASHDOT, zorder=1)
ax3.axhline(74, color=GREEN, lw=1.2, ls=DASHDOT, zorder=1)
ax3.plot(*xy(neo_yellow), color=YELLOW, lw=1.0, zorder=2)
ax3.plot(*xy(neo_cyan), color=CYAN, lw=1.0, zorder=3)

# candles
ax4 = panel(fig, 973, 1794, (3362, 4949), list(range(3400, 4950, 50)), np.arange(3370, 4950, 10), "%d")
o, c, h, l = [np.array(v, dtype=float) for v in (opens, closes, highs, lows)]
bars = np.arange(len(o))
is_green = c > o
is_green[filled_green] = True
is_green[hollow_red] = False
hollow = c > o
colors = np.where(is_green, GREEN, RED)
ok = ~np.isnan(o)
ax4.vlines(bars[ok], l[ok], h[ok], colors=np.where(is_green, "#00d800", "#e80000")[ok], lw=1.1, zorder=2)
tops = np.maximum(o, c)
bots = np.minimum(o, c)
for i in bars[ok]:
    ax4.bar(i, max(tops[i] - bots[i], 2.0), bottom=bots[i], width=0.78,
            facecolor="black" if hollow[i] else colors[i], edgecolor=colors[i], linewidth=1.1, zorder=3)

# time strip under the price panel
ax_t = px_axes(fig, X0, 1798, X1, 1829, facecolor="none")
ax_t.set_xlim(*XLIM)
ax_t.set_ylim(1, 0)
ax_t.set_yticks([])
for s in ("left", "right", "bottom"):
    ax_t.spines[s].set_visible(False)
ax_t.spines["top"].set_linewidth(1.2)
ax_t.set_xticks(np.arange(2, 297, 5))
ax_t.tick_params(axis="x", direction="in", top=True, bottom=False, labelbottom=False, length=5, width=0.9, color="#303030")
for b, name in zip(month_bars, month_labels):
    if b > XLIM[0]:
        ax_t.plot([b, b], [0.02, 0.98], color="#303030", lw=0.9, clip_on=True)
    ax_t.text(b + 0.4, 0.66, name, fontsize=15.5, color="#101010", va="center", ha="left", clip_on=True)

# hand drawn marks over everything
fg = px_axes(fig, 0, 0, W, H, zorder=10)
fg.set_xlim(0, W / 1.24)
fg.set_ylim(H / 1.24, 0)
fg.axis("off")
fg.patch.set_alpha(0)


def ring(cx, cy, w, h, color):
    fg.add_patch(Ellipse((cx, cy), w, h, fc="none", ec=color, lw=1.9))


for cx, cy, w, h in [(476, 61, 18, 34), (347, 306, 50, 35), (176, 565, 28, 32), (364, 567, 27, 32), (635, 563, 36, 29), (1099, 583, 35, 30)]:
    ring(cx, cy, w, h, RED)
for cx, cy, w, h in [(794, 220, 27, 35), (874, 227, 28, 33), (239, 475, 21, 22), (427, 481, 22, 24), (262, 721, 22, 34),
                     (427, 720, 22, 34), (782, 711, 32, 37), (908, 700, 31, 36)]:
    ring(cx, cy, w, h, GREEN)
for xs, ys, col, lw in [((1104, 1283), (302, 357), RED, 3.4), ((72, 281), (697, 737), RED, 3.4), ((972, 1115), (543, 580), RED, 3.4),
                        ((239, 274), (478, 460), GREEN, 2.2), ((730, 777), (485, 470), GREEN, 2.6),
                        ((747, 918), (732, 711), GREEN, 3.2), ((1174, 1259), (741, 710), GREEN, 3.2)]:
    fg.plot(xs, ys, color=col, lw=lw, solid_capstyle="butt")
fg.text(1168, 870, "Psychator", color="#ffff00", fontsize=38, fontweight="bold", fontstyle="italic", ha="center", va="center")

fig.savefig("out.png", dpi=100, facecolor=fig.get_facecolor())
plt.close(fig)
